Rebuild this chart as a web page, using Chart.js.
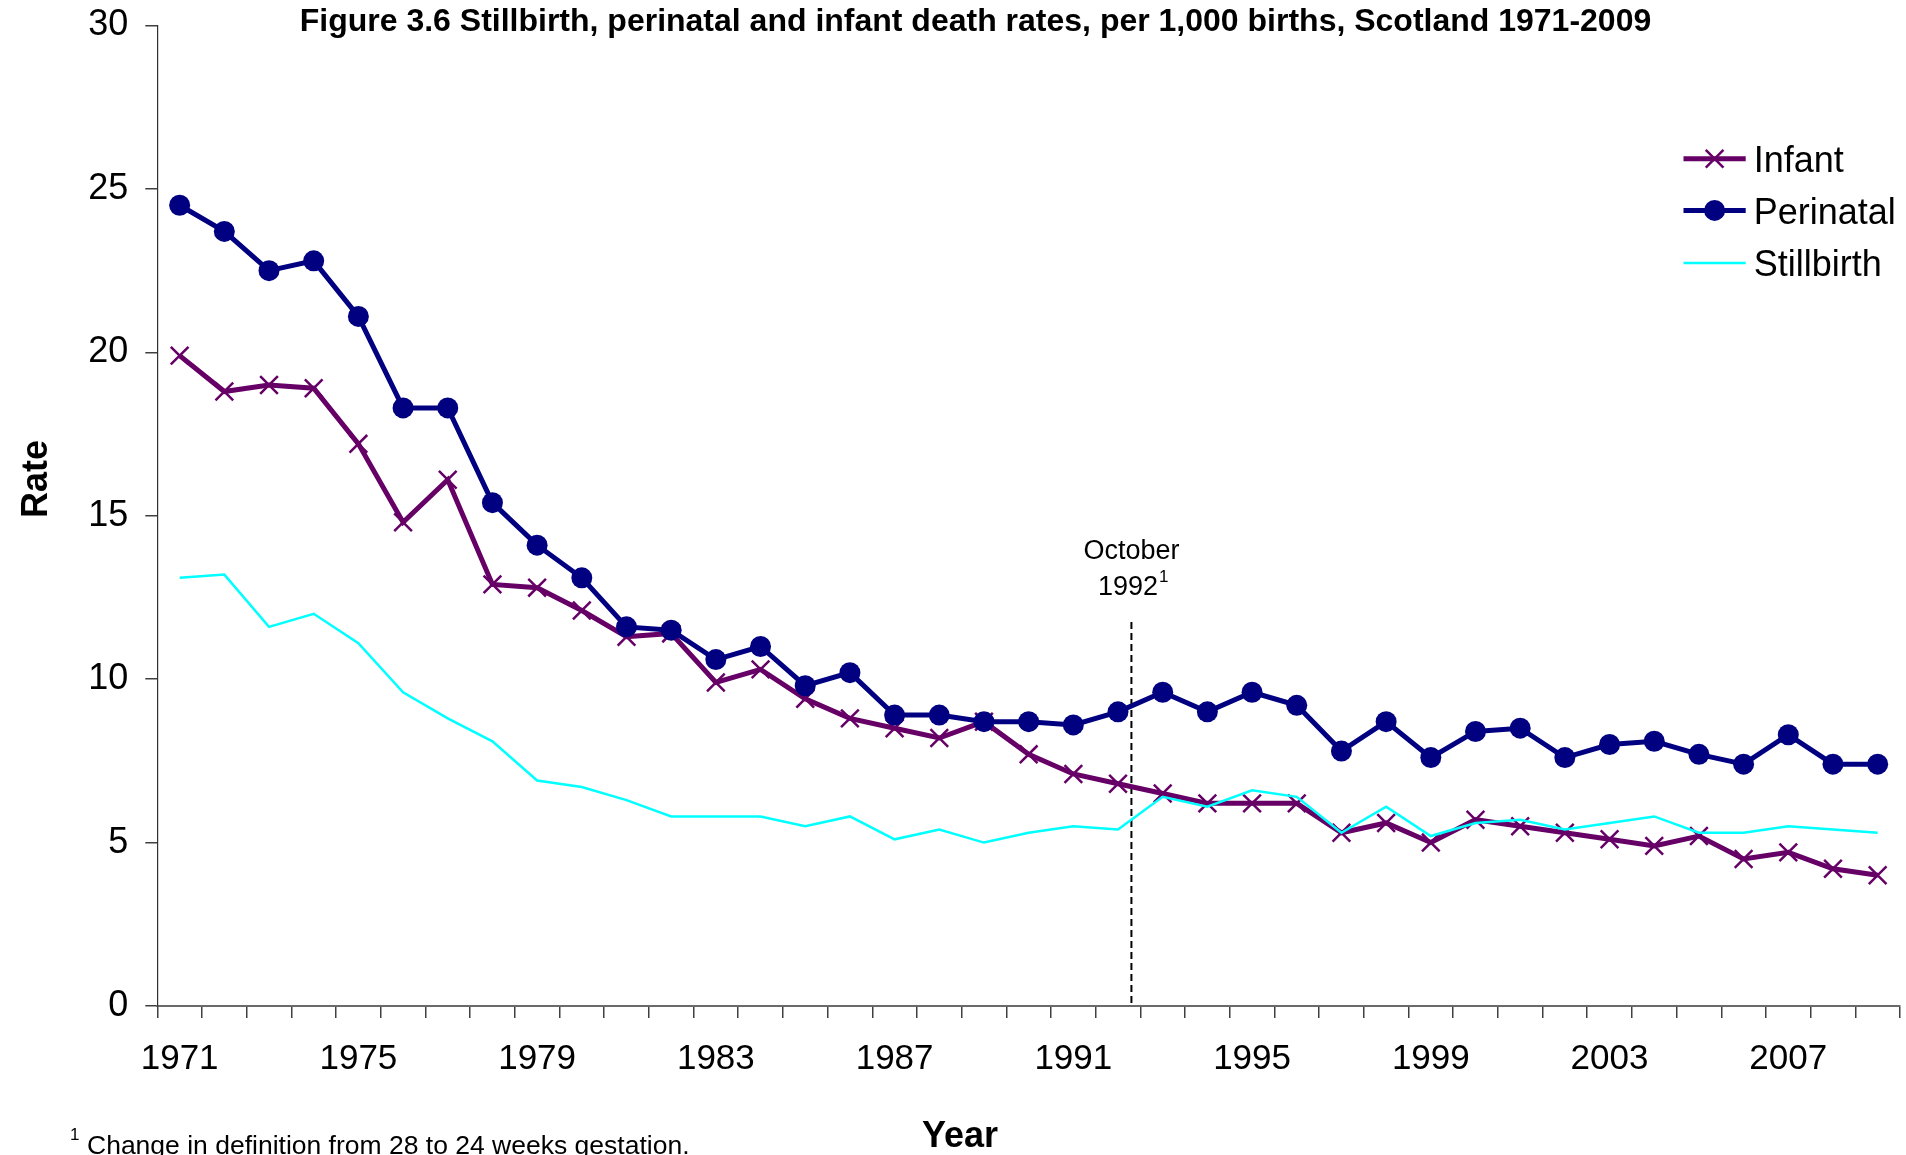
<!DOCTYPE html>
<html>
<head>
<meta charset="utf-8">
<script src="https://cdn.jsdelivr.net/npm/chart.js@4.4.1/dist/chart.umd.min.js"></script>
<style>
html,body{margin:0;padding:0;background:#ffffff;overflow:hidden;}
#wrap{width:1906px;height:1155px;position:relative;overflow:hidden;}
#c{display:block;}
</style>
</head>
<body>
<div id="wrap"><canvas id="c" width="1915" height="1155"></canvas></div>
<script>
// ---- DATA ----
const years = ['1971','1972','1973','1974','1975','1976','1977','1978','1979','1980',
               '1981','1982','1983','1984','1985','1986','1987','1988','1989','1990',
               '1991','1992','1993','1994','1995','1996','1997','1998','1999','2000',
               '2001','2002','2003','2004','2005','2006','2007','2008','2009'];
const infant = [19.9,18.8,19.0,18.9,17.2,14.8,16.1,12.9,12.8,12.1,
                11.3,11.4,9.9,10.3,9.4,8.8,8.5,8.2,8.7,7.7,
                7.1,6.8,6.5,6.2,6.2,6.2,5.3,5.6,5.0,5.7,
                5.5,5.3,5.1,4.9,5.2,4.5,4.7,4.2,4.0];
const perinatal = [24.5,23.7,22.5,22.8,21.1,18.3,18.3,15.4,14.1,13.1,
                   11.6,11.5,10.6,11.0,9.8,10.2,8.9,8.9,8.7,8.7,
                   8.6,9.0,9.6,9.0,9.6,9.2,7.8,8.7,7.6,8.4,
                   8.5,7.6,8.0,8.1,7.7,7.4,8.3,7.4,7.4];
const stillbirth = [13.1,13.2,11.6,12.0,11.1,9.6,8.8,8.1,6.9,6.7,
                    6.3,5.8,5.8,5.8,5.5,5.8,5.1,5.4,5.0,5.3,
                    5.5,5.4,6.4,6.1,6.6,6.4,5.3,6.1,5.2,5.6,
                    5.7,5.4,5.6,5.8,5.3,5.3,5.5,5.4,5.3];
const seriesNames = ['Infant','Perinatal','Stillbirth'];
const xTickLabels = ['1971','1975','1979','1983','1987','1991','1995','1999','2003','2007'];
const yTickValues = [0,5,10,15,20,25,30];
const annotationIndex = 21.3;   // position of the October 1992 change on the year axis
const annotationTopValue = 11.75;
const titleText = 'Figure 3.6 Stillbirth, perinatal and infant death rates, per 1,000 births, Scotland 1971-2009';
const yTitle = 'Rate';
const xTitle = 'Year';
const footnoteText = 'Change in definition from 28 to 24 weeks gestation.';

// ---- STYLE ----
const FONT = "'Liberation Sans', Arial, Helvetica, sans-serif";
const colInfant = '#660066';
const colPerinatal = '#000080';
const colStill = '#00FFFF';

const textPlugin = {
  id: 'texts',
  beforeDatasetsDraw(chart) {
    const ctx = chart.ctx;
    const xs = chart.scales.x, ys = chart.scales.y;
    const x = xs.getPixelForValue(annotationIndex);
    ctx.save();
    ctx.strokeStyle = '#000000';
    ctx.lineWidth = 2;
    ctx.setLineDash([7, 4]);
    ctx.beginPath();
    ctx.moveTo(x, ys.getPixelForValue(annotationTopValue));
    ctx.lineTo(x, ys.getPixelForValue(0));
    ctx.stroke();
    ctx.restore();
  },
  afterDraw(chart) {
    const ctx = chart.ctx;
    const xs = chart.scales.x;
    ctx.save();
    ctx.fillStyle = '#000000';
    // title
    ctx.font = 'bold 32px ' + FONT;
    ctx.textAlign = 'center';
    ctx.textBaseline = 'alphabetic';
    ctx.fillText(titleText, 975.5, 31);
    // x title
    ctx.font = 'bold 36px ' + FONT;
    ctx.fillText(xTitle, 960, 1147);
    // y title
    ctx.save();
    ctx.translate(46.5, 479);
    ctx.rotate(-Math.PI / 2);
    ctx.fillText(yTitle, 0, 0);
    ctx.restore();
    // footnote
    ctx.textAlign = 'left';
    ctx.font = '17px ' + FONT;
    ctx.fillText('1', 70, 1140);
    ctx.font = '26.5px ' + FONT;
    ctx.fillText(footnoteText, 87, 1154);
    // annotation text
    const ax = xs.getPixelForValue(annotationIndex);
    ctx.font = '27px ' + FONT;
    ctx.textAlign = 'center';
    ctx.fillText('October', ax, 558.5);
    ctx.textAlign = 'left';
    const w1992 = ctx.measureText('1992').width;
    const lx = ax - (w1992 + 7) / 2;
    ctx.fillText('1992', lx, 595);
    ctx.font = '17px ' + FONT;
    ctx.fillText('1', lx + w1992 + 1, 582);
    // legend
    const legendRows = [158.8, 210.4, 263];
    [0, 1, 2].forEach((i) => {
      const ds = chart.data.datasets[i];
      const y = legendRows[i];
      ctx.save();
      ctx.strokeStyle = ds.borderColor;
      ctx.lineWidth = ds.borderWidth;
      ctx.lineCap = 'butt';
      ctx.beginPath();
      ctx.moveTo(1683.5, y);
      ctx.lineTo(1745.7, y);
      ctx.stroke();
      if (ds.pointRadius > 0) {
        ctx.fillStyle = ds.pointBackgroundColor;
        ctx.strokeStyle = ds.pointBorderColor;
        ctx.lineWidth = ds.pointBorderWidth;
        Chart.helpers.drawPoint(ctx, {
          pointStyle: ds.pointStyle, rotation: 0,
          radius: ds.pointRadius, borderWidth: ds.pointBorderWidth
        }, (1683.5 + 1745.7) / 2, y);
      }
      ctx.restore();
      ctx.fillStyle = '#000000';
      ctx.font = '36px ' + FONT;
      ctx.textAlign = 'left';
      ctx.textBaseline = 'alphabetic';
      ctx.fillText(seriesNames[i], 1753.7, y + 13.4);
    });
    ctx.restore();
  }
};

new Chart(document.getElementById('c'), {
  type: 'line',
  data: {
    labels: years,
    datasets: [
      {
        label: seriesNames[0], data: infant, order: 2,
        borderColor: colInfant, borderWidth: 5, tension: 0,
        pointStyle: 'crossRot', pointRadius: 12.5, pointBorderWidth: 2.5,
        pointBorderColor: colInfant, pointBackgroundColor: colInfant,
        pointHoverRadius: 12.5
      },
      {
        label: seriesNames[1], data: perinatal, order: 1,
        borderColor: colPerinatal, borderWidth: 5, tension: 0,
        pointStyle: 'circle', pointRadius: 10.5, pointBorderWidth: 0,
        pointBorderColor: colPerinatal, pointBackgroundColor: colPerinatal,
        pointHoverRadius: 10.5
      },
      {
        label: seriesNames[2], data: stillbirth, order: 0,
        borderColor: colStill, borderWidth: 2.5, tension: 0,
        pointRadius: 0, pointHoverRadius: 0,
        pointBorderWidth: 0, pointBackgroundColor: colStill, pointBorderColor: colStill
      }
    ]
  },
  options: {
    responsive: false,
    animation: false,
    events: [],
    layout: { padding: { left: 0, top: 25.5, right: 15, bottom: 0 } },
    plugins: { legend: { display: false }, title: { display: false }, tooltip: { enabled: false } },
    scales: {
      x: {
        type: 'category',
        offset: true,
        grid: { offset: true, drawOnChartArea: false, drawTicks: true, tickLength: 12, color: '#404040', lineWidth: 1.5 },
        border: { display: true, color: '#6a6a6a', width: 2 },
        ticks: {
          autoSkip: false, maxRotation: 0, minRotation: 0, padding: 20, color: '#000000',
          font: { family: FONT, size: 35 },
          callback: function (v, i) { const l = years[i]; return xTickLabels.includes(l) ? l : ''; }
        },
        afterFit: function (s) { s.height = 149; s.paddingLeft = 0; s.paddingRight = 0; }
      },
      y: {
        min: 0, max: 30,
        afterBuildTicks: function (s) { s.ticks = yTickValues.map(v => ({ value: v })); },
        ticks: { padding: 17, color: '#000000', font: { family: FONT, size: 36 } },
        grid: { drawOnChartArea: false, drawTicks: true, tickLength: 12, color: '#404040', lineWidth: 1.5 },
        border: { display: true, color: '#303030', width: 1.2 },
        afterFit: function (s) { s.width = 157.3; s.paddingTop = 0; s.paddingBottom = 0; }
      }
    }
  },
  plugins: [textPlugin]
});
</script>
</body>
</html>
